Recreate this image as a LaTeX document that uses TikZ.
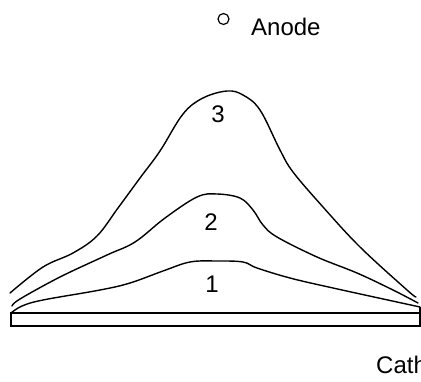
\documentclass[tikz,border=0pt]{standalone}
\usepackage{fontspec}
\setmainfont{Liberation Sans}
\begin{document}
\begin{tikzpicture}[x=1pt,y=-1pt,
  curve/.style={line width=1.4pt, line join=round, line cap=round},
  lbl/.style={inner sep=0pt, font=\fontsize{24}{28}\selectfont},
  barline/.style={line width=1.5pt}]
\useasboundingbox (0,0) rectangle (421,381);
\clip (0,0) rectangle (421,381);
% anode marker and label
\node[circle, draw, line width=1.2pt, minimum size=11pt, inner sep=0pt] (mark) at (223.5,19) {};
\node[lbl, anchor=base west] (anode) at (251,35) {Anode};
% cathode label (cut off by picture edge)
\node[lbl, anchor=base west] (cathode) at (376,373) {Cathode};
% electrode bar
\draw[barline] (11,313) rectangle (420,326);
\coordinate (barTL) at (11,313);
\coordinate (barTR) at (420,307);
\draw[barline] (barTR) -- (420,326);
% curve 1
\draw[curve] plot[smooth, tension=0.6] coordinates {(11,313) (22,306) (43,300) (100,290) (130,283) (163,271) (190,262) (217,261) (243,262) (257,268) (290,278) (333,288) (420,307)};
% curve 2
\draw[curve] plot[smooth, tension=0.6] coordinates {(12,306) (20,299) (60,277) (107,255) (135,242) (165,218) (197,197) (217,194) (240,198) (253,210) (263,225) (277,237) (317,257) (357,273) (393,290) (418,303)};
% curve 3
\draw[curve] plot[smooth, tension=0.6] coordinates {(10,293) (43,267) (73,253) (97,236) (118,208) (140,178) (160,151) (183,114) (203,98) (227,91) (243,95) (260,110) (280,150) (293,172) (323,207) (360,247) (407,290) (416,297)};
% curve labels
\node[lbl] (n3) at (218,114) {3};
\node[lbl] (n2) at (211,222) {2};
\node[lbl] (n1) at (212,284) {1};
\end{tikzpicture}
\end{document}
